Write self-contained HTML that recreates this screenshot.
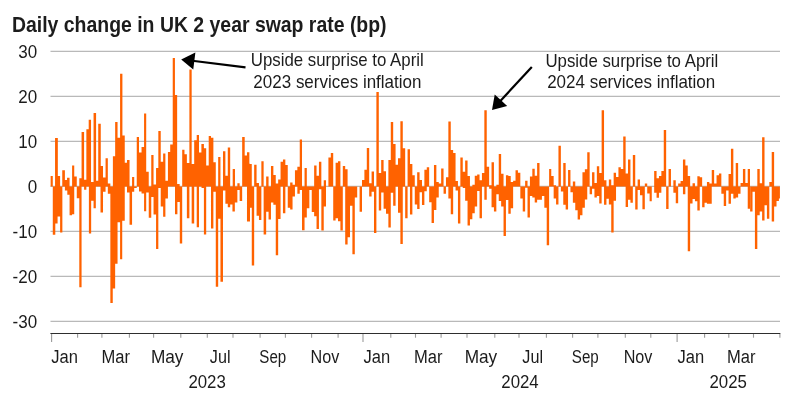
<!DOCTYPE html>
<html><head><meta charset="utf-8"><title>Daily change in UK 2 year swap rate (bp)</title>
<style>html,body{margin:0;padding:0;background:#fff;}svg{display:block;will-change:transform;}text{font-family:"Liberation Sans",sans-serif;fill:#1c1c1c;}</style></head><body>
<svg width="800" height="412" viewBox="0 0 800 412">
<rect width="800" height="412" fill="#ffffff"/>
<text transform="translate(12 31.8) scale(0.9 1)" font-size="21.6" font-weight="bold" fill="#101010">Daily change in UK 2 year swap rate (bp)</text>
<line x1="50.5" x2="780" y1="51.4" y2="51.4" stroke="#b9b9b9" stroke-width="1.1"/>
<text transform="translate(37.2 57.9) scale(0.92 1)" font-size="18.5" text-anchor="end">30</text>
<line x1="50.5" x2="780" y1="96.4" y2="96.4" stroke="#b9b9b9" stroke-width="1.1"/>
<text transform="translate(37.2 102.9) scale(0.92 1)" font-size="18.5" text-anchor="end">20</text>
<line x1="50.5" x2="780" y1="141.4" y2="141.4" stroke="#b9b9b9" stroke-width="1.1"/>
<text transform="translate(37.2 147.9) scale(0.92 1)" font-size="18.5" text-anchor="end">10</text>
<line x1="50.5" x2="780" y1="186.4" y2="186.4" stroke="#b9b9b9" stroke-width="1.1"/>
<text transform="translate(37.2 192.9) scale(0.92 1)" font-size="18.5" text-anchor="end">0</text>
<line x1="50.5" x2="780" y1="231.4" y2="231.4" stroke="#b9b9b9" stroke-width="1.1"/>
<text transform="translate(37.2 237.9) scale(0.92 1)" font-size="18.5" text-anchor="end">-10</text>
<line x1="50.5" x2="780" y1="276.4" y2="276.4" stroke="#b9b9b9" stroke-width="1.1"/>
<text transform="translate(37.2 282.9) scale(0.92 1)" font-size="18.5" text-anchor="end">-20</text>
<line x1="50.5" x2="780" y1="321.4" y2="321.4" stroke="#b9b9b9" stroke-width="1.1"/>
<text transform="translate(37.2 327.9) scale(0.92 1)" font-size="18.5" text-anchor="end">-30</text>
<path fill="#ff6200" d="M50.63 186.4H52.78V176.05H50.63ZM55.05 186.4H57.83V138.03H55.05ZM57.83 186.4H60.1V176.05H57.83ZM62.25 186.4H64.9V170.25H62.25ZM64.9 186.4H67.05V180.1H64.9ZM67.05 186.4H69.57V177.81H67.05ZM72.1 186.4H74.24V165.56H72.1ZM74.24 186.4H76.77V176.55H74.24ZM79.29 186.4H81.57V178.21H79.29ZM81.57 186.4H84.09V131.95H81.57ZM84.09 186.4H86.36V179.83H84.09ZM86.36 186.4H88.7V129.25H86.36ZM88.7 186.4H91.04V119.8H88.7ZM91.04 186.4H93.56V181.99H91.04ZM93.56 186.4H96.09V113.05H93.56ZM96.09 186.4H98.23V180.73H96.09ZM98.23 186.4H100.76V123.85H98.23ZM100.76 186.4H103.03V165.97H100.76ZM103.03 186.4H105.56V177.58H103.03ZM105.56 186.4H107.83V158.37H105.56ZM107.83 186.4H110.35V183.61H107.83ZM112.88 186.4H115.15V156.34H112.88ZM115.15 186.4H117.55V122.05H115.15ZM117.55 186.4H120.08V137.8H117.55ZM120.08 186.4H122.41V73.67H120.08ZM122.41 186.4H124.75V135.55H122.41ZM124.75 186.4H127.02V162.69H124.75ZM127.02 186.4H129.55V159.9H127.02ZM132.07 186.4H134.22V176.95H132.07ZM136.74 186.4H139.02V136.9H136.74ZM139.02 186.4H141.54V152.56H139.02ZM141.54 186.4H144.07V147.03H141.54ZM144.07 186.4H146.21V113.5H144.07ZM146.21 186.4H148.74V171.87H146.21ZM151.26 186.4H153.54V155.08H151.26ZM153.54 186.4H156.06V184.51H153.54ZM156.06 186.4H158.33V168.09H156.06ZM158.33 186.4H160.73V131.05H158.33ZM160.73 186.4H163.13V161.78H160.73ZM163.13 186.4H165.4V153.59H163.13ZM165.4 186.4H167.93V180.73H165.4ZM167.93 186.4H170.2V152.06H167.93ZM170.2 186.4H172.73V144.5H170.2ZM172.73 186.4H174.94V57.93H172.73ZM174.94 186.4H177.15V95.05H174.94ZM177.15 186.4H179.67V183.88H177.15ZM182.2 186.4H184.47V149.77H182.2ZM184.47 186.4H186.87V154.22H184.47ZM186.87 186.4H189.39V163.05H186.87ZM189.39 186.4H191.67V69.4H189.39ZM191.67 186.4H194.19V163.94H191.67ZM194.19 186.4H196.72V140.32H194.19ZM196.72 186.4H198.99V134.88H196.72ZM198.99 186.4H201.39V152.56H198.99ZM201.39 186.4H203.91V144.1H201.39ZM203.91 186.4H206.19V148.28H203.91ZM206.19 186.4H208.71V165.56H206.19ZM208.71 186.4H210.98V136H208.71ZM210.98 186.4H213.38V137.8H210.98ZM213.38 186.4H215.78V162.15H213.38ZM218.18 186.4H220.45V157.11H218.18ZM222.98 186.4H225.38V151.3H222.98ZM225.38 186.4H227.78V175.69H225.38ZM227.78 186.4H230.18V147.52H227.78ZM232.7 186.4H234.97V168.99H232.7ZM237.37 186.4H239.65V183.25H237.37ZM242.17 186.4H244.7V136.9H242.17ZM244.7 186.4H246.97V155.49H244.7ZM246.97 186.4H249.37V152.34H246.97ZM249.37 186.4H250V163.68H249.37ZM250 186.4H251.77V163.94H250ZM254.17 186.4H256.57V164.71H254.17ZM256.57 186.4H258.96V182.89H256.57ZM261.36 186.4H263.64V161.16H261.36ZM266.16 186.4H268.56V176.55H266.16ZM270.96 186.4H273.36V165.97H270.96ZM273.36 186.4H275.76V175.06H273.36ZM275.76 186.4H278.16V183.61H275.76ZM278.16 186.4H280.56V179.47H278.16ZM280.56 186.4H282.95V161.78H280.56ZM282.95 186.4H285.35V159.62H282.95ZM285.35 186.4H287.75V164.94H285.35ZM290.15 186.4H292.55V182.62H290.15ZM292.55 186.4H294.95V184.87H292.55ZM294.95 186.4H297.35V170.25H294.95ZM297.35 186.4H299.75V166.83H297.35ZM299.75 186.4H302.02V139.42H299.75ZM304.55 186.4H306.82V168.09H304.55ZM314.14 186.4H316.54V165.56H314.14ZM316.54 186.4H318.94V175.69H316.54ZM318.94 186.4H321.34V161.78H318.94ZM323.74 186.4H326.01V180.33H323.74ZM328.41 186.4H330.81V157.38H328.41ZM330.81 186.4H333.21V152.97H330.81ZM335.61 186.4H338.01V162.69H335.61ZM338.01 186.4H340.4V161.16H338.01ZM342.8 186.4H345.2V165.97H342.8ZM345.2 186.4H347.6V169.34H345.2ZM361.99 186.4H364.39V180.1H361.99ZM364.39 186.4H366.79V169.75H364.39ZM366.79 186.4H369.19V147.88H366.79ZM369.19 186.4H371.59V183.25H369.19ZM371.59 186.4H373.99V171.5H371.59ZM376.39 186.4H378.79V91.9H376.39ZM378.79 186.4H381.19V173.12H378.79ZM381.19 186.4H383.59V160.12H381.19ZM383.59 186.4H385.98V171.24H383.59ZM388.38 186.4H390.78V159.9H388.38ZM390.78 186.4H393.18V122.05H390.78ZM393.18 186.4H395.58V144.1H393.18ZM395.58 186.4H397.98V164.71H395.58ZM397.98 186.4H400.38V158.37H397.98ZM400.38 186.4H402.78V121.15H400.38ZM402.78 186.4H405.18V148.15H402.78ZM407.58 186.4H409.97V149.14H407.58ZM409.97 186.4H412.37V163.94H409.97ZM412.37 186.4H414.77V175.28H412.37ZM417.17 186.4H419.57V172.13H417.17ZM419.57 186.4H421.97V180.1H419.57ZM424.37 186.4H426.77V169.75H424.37ZM426.77 186.4H429.17V167.23H426.77ZM433.96 186.4H436.36V164.94H433.96ZM436.36 186.4H438.76V181.99H436.36ZM438.76 186.4H441.16V183.61H438.76ZM441.16 186.4H443.56V168.49H441.16ZM445.96 186.4H448.36V177.31H445.96ZM448.36 186.4H450V121.38H448.36ZM450 186.4H450.76V121.38H450ZM450.76 186.4H453.16V150.04H450.76ZM453.16 186.4H455.56V152.97H453.16ZM455.56 186.4H457.95V181.09H455.56ZM460.35 186.4H462.75V157.38H460.35ZM462.75 186.4H465.15V171.87H462.75ZM465.15 186.4H467.55V160.53H465.15ZM467.55 186.4H469.95V176.05H467.55ZM472.35 186.4H474.75V184.87H472.35ZM474.75 186.4H477.15V175.69H474.75ZM477.15 186.4H479.55V174.43H477.15ZM479.55 186.4H481.94V180.33H479.55ZM481.94 186.4H484.34V173.12H481.94ZM484.34 186.4H486.74V110.35H484.34ZM486.74 186.4H489.14V166.83H486.74ZM489.14 186.4H491.54V185.14H489.14ZM491.54 186.4H493.94V162.15H491.54ZM496.34 186.4H498.74V184.87H496.34ZM498.74 186.4H501.14V153.96H498.74ZM501.14 186.4H503.54V173.8H501.14ZM505.93 186.4H508.33V175.28H505.93ZM508.33 186.4H510.73V176.05H508.33ZM510.73 186.4H513.13V181.99H510.73ZM513.13 186.4H515.53V180.73H513.13ZM515.53 186.4H517.93V170.25H515.53ZM517.93 186.4H520.33V172.77H517.93ZM525.13 186.4H527.53V180.73H525.13ZM529.92 186.4H532.32V176.55H529.92ZM532.32 186.4H534.72V168.72H532.32ZM534.72 186.4H537.12V175.69H534.72ZM537.12 186.4H539.52V163.05H537.12ZM549.12 186.4H550V168.99H549.12ZM550 186.4H551.26V168.99H550ZM551.26 186.4H553.66V176.05H551.26ZM553.66 186.4H556.06V185.14H553.66ZM558.46 186.4H560.86V145.77H558.46ZM563.26 186.4H565.66V163.05H563.26ZM568.06 186.4H570.45V169.97H568.06ZM572.85 186.4H575.25V181.59H572.85ZM582.45 186.4H584.85V172.27H582.45ZM584.85 186.4H587.25V169.34H584.85ZM587.25 186.4H589.65V152.34H587.25ZM592.05 186.4H594.44V172.27H592.05ZM594.44 186.4H596.84V182.89H594.44ZM596.84 186.4H599.24V166.19H596.84ZM599.24 186.4H601.64V173.12H599.24ZM601.64 186.4H604.04V110.35H601.64ZM604.04 186.4H606.44V180.33H604.04ZM608.84 186.4H611.24V179.47H608.84ZM611.24 186.4H613.64V185.14H611.24ZM613.64 186.4H616.04V172.77H613.64ZM616.04 186.4H618.43V176.95H616.04ZM618.43 186.4H620.83V167.23H618.43ZM620.83 186.4H623.23V168.99H620.83ZM623.23 186.4H625.63V136.54H623.23ZM625.63 186.4H628.03V173.53H625.63ZM628.03 186.4H630.43V159.62H628.03ZM632.83 186.4H635.23V155.08H632.83ZM637.63 186.4H640.03V179.47H637.63ZM644.82 186.4H647.22V183.61H644.82ZM654.17 186.4H656.57V171.01H654.17ZM656.57 186.4H658.96V178.21H656.57ZM658.96 186.4H661.36V176.05H658.96ZM661.36 186.4H663.76V171.01H661.36ZM663.76 186.4H666.16V129.93H663.76ZM668.56 186.4H670.96V168.99H668.56ZM673.36 186.4H675.76V180.33H673.36ZM678.16 186.4H680.56V183.61H678.16ZM680.56 186.4H682.95V181.09H680.56ZM682.95 186.4H685.35V159.62H682.95ZM685.35 186.4H687.75V165.56H685.35ZM687.75 186.4H690.15V176.05H687.75ZM692.55 186.4H694.95V183.25H692.55ZM697.35 186.4H699.75V176.32H697.35ZM699.75 186.4H702.15V177.31H699.75ZM706.94 186.4H709.34V181.99H706.94ZM709.34 186.4H711.74V183.61H709.34ZM711.74 186.4H714.14V169.97H711.74ZM714.14 186.4H716.54V183.61H714.14ZM716.54 186.4H718.94V175.28H716.54ZM718.94 186.4H721.34V173.53H718.94ZM728.54 186.4H730.93V174.03H728.54ZM730.93 186.4H733.33V148.78H730.93ZM735.73 186.4H738.13V163.05H735.73ZM740.53 186.4H742.93V182.89H740.53ZM742.93 186.4H745.33V168.99H742.93ZM745.33 186.4H747.73V182.89H745.33ZM747.73 186.4H750V168.99H747.73ZM757.32 186.4H759.72V168.99H757.32ZM759.72 186.4H762.12V183.25H759.72ZM762.12 186.4H764.52V137.17H762.12ZM769.32 186.4H771.72V181.99H769.32ZM771.72 186.4H774.12V152.06H771.72ZM52.78 186.4H55.3V234.78H52.78ZM55.3 186.4H57.58V223.39H55.3ZM57.58 186.4H60.1V216.46H57.58ZM60.1 186.4H62.37V232.62H60.1ZM64.9 186.4H67.3V190.59H64.9ZM67.3 186.4H69.57V194.77H67.3ZM69.57 186.4H72.1V215.2H69.57ZM72.1 186.4H74.24V214.21H72.1ZM76.77 186.4H79.29V198.15H76.77ZM79.29 186.4H81.57V287.2H79.29ZM84.09 186.4H86.36V189.69H84.09ZM88.89 186.4H91.16V233.52H88.89ZM91.16 186.4H93.56V200.67H91.16ZM93.56 186.4H95.83V208.27H93.56ZM100.51 186.4H103.03V212.41H100.51ZM103.03 186.4H105.56V191.84H103.03ZM107.83 186.4H110.35V193.74H107.83ZM110.35 186.4H112.75V302.95H110.35ZM112.75 186.4H115.15V288.55H112.75ZM115.15 186.4H117.55V263.8H115.15ZM117.55 186.4H120.08V222.13H117.55ZM120.08 186.4H122.22V259.3H120.08ZM122.22 186.4H124.75V220.87H122.22ZM127.02 186.4H129.55V192.47H127.02ZM129.55 186.4H132.07V224.69H129.55ZM132.07 186.4H134.22V191.84H132.07ZM134.22 186.4H136.74V188.06H134.22ZM139.02 186.4H141.54V191.49H139.02ZM141.54 186.4H144.07V193.47H141.54ZM144.07 186.4H146.21V211.15H144.07ZM146.21 186.4H148.74V192.47H146.21ZM148.74 186.4H150V217.72H148.74ZM150 186.4H151.26V217.72H150ZM151.26 186.4H153.54V196.88H151.26ZM153.54 186.4H156.06V214.57H153.54ZM156.06 186.4H158.33V248.95H156.06ZM158.33 186.4H160.73V188.06H158.33ZM160.73 186.4H163.13V206.61H160.73ZM163.13 186.4H165.4V216.73H163.13ZM165.4 186.4H167.93V198.55H165.4ZM175 186.4H177.4V214.21H175ZM177.4 186.4H179.8V201.93H177.4ZM179.8 186.4H182.2V243.55H179.8ZM186.87 186.4H189.39V218.35H186.87ZM191.67 186.4H194.19V223.39H191.67ZM196.72 186.4H198.99V227.22H196.72ZM201.52 186.4H203.91V188.06H201.52ZM203.91 186.4H206.19V234.42H203.91ZM210.98 186.4H213.38V228.47H210.98ZM213.38 186.4H215.78V191.84H213.38ZM215.78 186.4H218.18V286.75H215.78ZM218.18 186.4H220.45V218.75H218.18ZM220.45 186.4H222.98V281.8H220.45ZM222.98 186.4H225.38V190.59H222.98ZM225.38 186.4H227.78V203.86H225.38ZM227.78 186.4H230.18V207.37H227.78ZM230.18 186.4H232.45V204.49H230.18ZM232.45 186.4H234.85V211.42H232.45ZM234.85 186.4H237.37V202.56H234.85ZM237.37 186.4H239.65V189.96H237.37ZM239.65 186.4H242.17V201.07H239.65ZM246.97 186.4H250V221.5H246.97ZM250 186.4H251.77V207.64H250ZM251.77 186.4H254.17V265.6H251.77ZM256.57 186.4H258.96V215.83H256.57ZM258.96 186.4H261.36V220.02H258.96ZM263.64 186.4H266.16V234.42H263.64ZM266.16 186.4H268.56V211.69H266.16ZM268.56 186.4H270.96V219.61H268.56ZM270.96 186.4H273.36V202.56H270.96ZM273.36 186.4H275.76V204.85H273.36ZM275.76 186.4H278.16V255.25H275.76ZM278.16 186.4H280.56V218.98H278.16ZM282.95 186.4H285.35V213.31H282.95ZM287.75 186.4H290.15V207.64H287.75ZM290.15 186.4H292.55V209.53H290.15ZM292.55 186.4H294.95V196.53H292.55ZM297.35 186.4H299.75V193.74H297.35ZM299.75 186.4H302.02V189.96H299.75ZM302.02 186.4H304.55V230.37H302.02ZM304.55 186.4H306.82V217.5H304.55ZM306.82 186.4H309.34V208.27H306.82ZM309.34 186.4H311.74V189.96H309.34ZM311.74 186.4H314.14V212.05H311.74ZM314.14 186.4H316.54V216.24H314.14ZM316.54 186.4H318.94V229.11H316.54ZM318.94 186.4H321.34V189.33H318.94ZM321.34 186.4H323.74V230.59H321.34ZM323.74 186.4H326.01V206.38H323.74ZM333.21 186.4H335.61V220.51H333.21ZM335.61 186.4H338.01V218.35H335.61ZM338.01 186.4H340.4V221.28H338.01ZM340.4 186.4H342.8V230.59H340.4ZM345.2 186.4H347.6V244.45H345.2ZM347.6 186.4H350V237.25H347.6ZM350 186.4H352.4V205.75H350ZM352.4 186.4H354.8V254.35H352.4ZM354.8 186.4H357.2V197.52H354.8ZM359.6 186.4H361.99V211.69H359.6ZM369.19 186.4H371.59V196.53H369.19ZM371.59 186.4H373.99V191.84H371.59ZM373.99 186.4H376.39V232.88H373.99ZM378.79 186.4H381.19V210.38H378.79ZM381.19 186.4H383.59V192.47H381.19ZM383.59 186.4H385.98V208.63H383.59ZM385.98 186.4H388.38V213.67H385.98ZM388.38 186.4H390.78V227.58H388.38ZM390.78 186.4H393.18V192.75H390.78ZM393.18 186.4H395.58V205.75H393.18ZM397.98 186.4H400.38V212.68H397.98ZM400.38 186.4H402.78V244H400.38ZM405.18 186.4H407.58V218.35H405.18ZM409.97 186.4H412.37V214.57H409.97ZM414.77 186.4H417.17V204.49H414.77ZM417.17 186.4H419.57V209.12H417.17ZM419.57 186.4H421.97V192.21H419.57ZM421.97 186.4H424.37V205.12H421.97ZM424.37 186.4H426.77V191.22H424.37ZM429.17 186.4H431.57V202.33H429.17ZM431.57 186.4H433.96V223.03H431.57ZM433.96 186.4H436.36V209.89H433.96ZM436.36 186.4H438.76V197.52H436.36ZM443.56 186.4H445.96V193.74H443.56ZM448.36 186.4H450V198.55H448.36ZM450 186.4H450.76V198.55H450ZM450.76 186.4H453.16V214.21H450.76ZM455.56 186.4H457.95V190.59H455.56ZM457.95 186.4H460.35V223.39H457.95ZM462.75 186.4H465.15V188.06H462.75ZM465.15 186.4H467.55V200.67H465.15ZM467.55 186.4H469.95V225.55H467.55ZM469.95 186.4H472.35V219.25H469.95ZM472.35 186.4H474.75V213.31H472.35ZM474.75 186.4H477.15V206.61H474.75ZM477.15 186.4H479.55V190.94H477.15ZM479.55 186.4H481.94V218.35H479.55ZM484.34 186.4H486.74V199.81H484.34ZM489.14 186.4H491.54V188.69H489.14ZM491.54 186.4H493.94V207.37H491.54ZM493.94 186.4H496.34V211.42H493.94ZM496.34 186.4H498.74V194.37H496.34ZM498.74 186.4H501.14V201.07H498.74ZM501.14 186.4H503.54V206.61H501.14ZM503.54 186.4H505.93V236.12H503.54ZM505.93 186.4H508.33V200.03H505.93ZM508.33 186.4H510.73V213.67H508.33ZM510.73 186.4H513.13V208.27H510.73ZM520.33 186.4H522.73V198.55H520.33ZM522.73 186.4H525.13V211.42H522.73ZM525.13 186.4H527.53V187.66H525.13ZM527.53 186.4H529.92V217.5H527.53ZM529.92 186.4H532.32V196.03H529.92ZM532.32 186.4H534.72V197.52H532.32ZM534.72 186.4H537.12V202.56H534.72ZM537.12 186.4H539.52V199.81H537.12ZM539.52 186.4H541.92V199.81H539.52ZM541.92 186.4H544.32V196.03H541.92ZM544.32 186.4H546.72V207.87H544.32ZM546.72 186.4H549.12V245.35H546.72ZM553.66 186.4H556.06V198.55H553.66ZM556.06 186.4H558.46V204.49H556.06ZM560.86 186.4H563.26V191.49H560.86ZM563.26 186.4H565.66V204.85H563.26ZM565.66 186.4H568.06V209.53H565.66ZM570.45 186.4H572.85V192.21H570.45ZM572.85 186.4H575.25V202.83H572.85ZM575.25 186.4H577.65V210.16H575.25ZM577.65 186.4H580.05V219.61H577.65ZM580.05 186.4H582.45V215.2H580.05ZM582.45 186.4H584.85V207.87H582.45ZM584.85 186.4H587.25V199.41H584.85ZM589.65 186.4H592.05V194.37H589.65ZM592.05 186.4H594.44V188.69H592.05ZM594.44 186.4H596.84V197.52H594.44ZM596.84 186.4H599.24V196.03H596.84ZM599.24 186.4H601.64V203.59H599.24ZM604.04 186.4H606.44V204.85H604.04ZM606.44 186.4H608.84V198.78H606.44ZM608.84 186.4H611.24V204.49H608.84ZM611.24 186.4H613.64V232.62H611.24ZM613.64 186.4H616.04V200.67H613.64ZM625.63 186.4H628.03V207.01H625.63ZM628.03 186.4H630.43V199.81H628.03ZM630.43 186.4H632.83V202.83H630.43ZM635.23 186.4H637.63V209.53H635.23ZM637.63 186.4H640.03V189.96H637.63ZM640.03 186.4H642.42V195.27H640.03ZM642.42 186.4H644.82V209.26H642.42ZM647.22 186.4H649.62V193.47H647.22ZM649.62 186.4H650V201.3H649.62ZM650 186.4H651.77V201.3H650ZM654.17 186.4H656.57V192.75H654.17ZM656.57 186.4H658.96V197.78H656.57ZM658.96 186.4H661.36V192.75H658.96ZM666.16 186.4H668.56V209.12H666.16ZM673.36 186.4H675.76V192.75H673.36ZM675.76 186.4H678.16V203.23H675.76ZM682.95 186.4H685.35V194.37H682.95ZM687.75 186.4H690.15V251.2H687.75ZM690.15 186.4H692.55V203.59H690.15ZM692.55 186.4H694.95V199.05H692.55ZM694.95 186.4H697.35V201.3H694.95ZM697.35 186.4H699.75V210.38H697.35ZM702.15 186.4H704.55V207.37H702.15ZM704.55 186.4H706.94V202.83H704.55ZM706.94 186.4H711.74V203.86H706.94ZM721.34 186.4H723.74V193.74H721.34ZM723.74 186.4H726.14V206.11H723.74ZM726.14 186.4H728.54V190.59H726.14ZM728.54 186.4H730.93V203.86H728.54ZM730.93 186.4H733.33V193.74H730.93ZM733.33 186.4H735.73V198.55H733.33ZM735.73 186.4H738.13V197.52H735.73ZM738.13 186.4H740.53V193.74H738.13ZM747.73 186.4H750V208.63H747.73ZM750.13 186.4H752.53V211.42H750.13ZM752.53 186.4H754.92V191.84H752.53ZM754.92 186.4H757.32V248.95H754.92ZM757.32 186.4H759.72V215.2H757.32ZM759.72 186.4H762.12V211.42H759.72ZM762.12 186.4H764.52V220.51H762.12ZM764.52 186.4H766.92V205.34H764.52ZM766.92 186.4H769.32V218.75H766.92ZM771.72 186.4H774.12V221.5H771.72ZM774.12 186.4H776.52V206.38H774.12ZM776.52 186.4H778.91V201.07H776.52ZM778.91 186.4H779.92V198.55H778.91Z"/>
<line x1="50.4" x2="780.4" y1="333.5" y2="333.5" stroke="#2e2e2e" stroke-width="1.2"/>
<line x1="51.6" x2="51.6" y1="334" y2="342" stroke="#9a9a9a" stroke-width="1.1"/>
<line x1="77.6" x2="77.6" y1="334" y2="337.7" stroke="#9a9a9a" stroke-width="1.1"/>
<line x1="101.9" x2="101.9" y1="334" y2="337.7" stroke="#9a9a9a" stroke-width="1.1"/>
<line x1="129.4" x2="129.4" y1="334" y2="337.7" stroke="#9a9a9a" stroke-width="1.1"/>
<line x1="153.6" x2="153.6" y1="334" y2="337.7" stroke="#9a9a9a" stroke-width="1.1"/>
<line x1="180.8" x2="180.8" y1="334" y2="337.7" stroke="#9a9a9a" stroke-width="1.1"/>
<line x1="207.3" x2="207.3" y1="334" y2="337.7" stroke="#9a9a9a" stroke-width="1.1"/>
<line x1="233" x2="233" y1="334" y2="337.7" stroke="#9a9a9a" stroke-width="1.1"/>
<line x1="260.1" x2="260.1" y1="334" y2="337.7" stroke="#9a9a9a" stroke-width="1.1"/>
<line x1="285.4" x2="285.4" y1="334" y2="337.7" stroke="#9a9a9a" stroke-width="1.1"/>
<line x1="311.6" x2="311.6" y1="334" y2="337.7" stroke="#9a9a9a" stroke-width="1.1"/>
<line x1="338.1" x2="338.1" y1="334" y2="337.7" stroke="#9a9a9a" stroke-width="1.1"/>
<line x1="363" x2="363" y1="334" y2="342" stroke="#9a9a9a" stroke-width="1.1"/>
<line x1="390.8" x2="390.8" y1="334" y2="337.7" stroke="#9a9a9a" stroke-width="1.1"/>
<line x1="415.5" x2="415.5" y1="334" y2="337.7" stroke="#9a9a9a" stroke-width="1.1"/>
<line x1="441.1" x2="441.1" y1="334" y2="337.7" stroke="#9a9a9a" stroke-width="1.1"/>
<line x1="467" x2="467" y1="334" y2="337.7" stroke="#9a9a9a" stroke-width="1.1"/>
<line x1="494.8" x2="494.8" y1="334" y2="337.7" stroke="#9a9a9a" stroke-width="1.1"/>
<line x1="519" x2="519" y1="334" y2="337.7" stroke="#9a9a9a" stroke-width="1.1"/>
<line x1="546.4" x2="546.4" y1="334" y2="337.7" stroke="#9a9a9a" stroke-width="1.1"/>
<line x1="572.6" x2="572.6" y1="334" y2="337.7" stroke="#9a9a9a" stroke-width="1.1"/>
<line x1="597.9" x2="597.9" y1="334" y2="337.7" stroke="#9a9a9a" stroke-width="1.1"/>
<line x1="625.3" x2="625.3" y1="334" y2="337.7" stroke="#9a9a9a" stroke-width="1.1"/>
<line x1="650.8" x2="650.8" y1="334" y2="337.7" stroke="#9a9a9a" stroke-width="1.1"/>
<line x1="677.1" x2="677.1" y1="334" y2="342" stroke="#9a9a9a" stroke-width="1.1"/>
<line x1="704.6" x2="704.6" y1="334" y2="337.7" stroke="#9a9a9a" stroke-width="1.1"/>
<line x1="728.8" x2="728.8" y1="334" y2="337.7" stroke="#9a9a9a" stroke-width="1.1"/>
<line x1="753.5" x2="753.5" y1="334" y2="337.7" stroke="#9a9a9a" stroke-width="1.1"/>
<line x1="779.9" x2="779.9" y1="334" y2="337.7" stroke="#9a9a9a" stroke-width="1.1"/>
<text transform="translate(64.6 362.9) scale(0.94 1)" font-size="17.6" text-anchor="middle">Jan</text>
<text transform="translate(115.65 362.9) scale(0.94 1)" font-size="17.6" text-anchor="middle">Mar</text>
<text transform="translate(167.2 362.9) scale(0.98 1)" font-size="17.6" text-anchor="middle">May</text>
<text transform="translate(220.15 362.9) scale(0.92 1)" font-size="17.6" text-anchor="middle">Jul</text>
<text transform="translate(272.75 362.9) scale(0.86 1)" font-size="17.6" text-anchor="middle">Sep</text>
<text transform="translate(324.85 362.9) scale(0.92 1)" font-size="17.6" text-anchor="middle">Nov</text>
<text transform="translate(376.9 362.9) scale(0.94 1)" font-size="17.6" text-anchor="middle">Jan</text>
<text transform="translate(428.3 362.9) scale(0.94 1)" font-size="17.6" text-anchor="middle">Mar</text>
<text transform="translate(480.9 362.9) scale(0.98 1)" font-size="17.6" text-anchor="middle">May</text>
<text transform="translate(532.7 362.9) scale(0.92 1)" font-size="17.6" text-anchor="middle">Jul</text>
<text transform="translate(585.25 362.9) scale(0.86 1)" font-size="17.6" text-anchor="middle">Sep</text>
<text transform="translate(638.05 362.9) scale(0.92 1)" font-size="17.6" text-anchor="middle">Nov</text>
<text transform="translate(690.85 362.9) scale(0.94 1)" font-size="17.6" text-anchor="middle">Jan</text>
<text transform="translate(741.15 362.9) scale(0.94 1)" font-size="17.6" text-anchor="middle">Mar</text>
<text transform="translate(207.1 387.8) scale(0.91 1)" font-size="18.5" text-anchor="middle">2023</text>
<text transform="translate(520 387.8) scale(0.91 1)" font-size="18.5" text-anchor="middle">2024</text>
<text transform="translate(728.2 387.8) scale(0.91 1)" font-size="18.5" text-anchor="middle">2025</text>
<text transform="translate(337.3 65.8) scale(0.94 1)" font-size="17.9" text-anchor="middle">Upside surprise to April</text>
<text transform="translate(337.4 87.5) scale(0.95 1)" font-size="17.9" text-anchor="middle">2023 services inflation</text>
<text transform="translate(631.9 66.6) scale(0.94 1)" font-size="17.9" text-anchor="middle">Upside surprise to April</text>
<text transform="translate(631.2 88.3) scale(0.95 1)" font-size="17.9" text-anchor="middle">2024 services inflation</text>
<line x1="245.5" y1="67.4" x2="192.31" y2="60.78" stroke="#000" stroke-width="2.2"/><polygon points="181.2,59.4 195.35,52.59 193.25,69.46" fill="#000"/>
<line x1="531.8" y1="67" x2="499.61" y2="101.78" stroke="#000" stroke-width="2.2"/><polygon points="492,110 494.73,94.54 507.2,106.09" fill="#000"/>
</svg></body></html>
